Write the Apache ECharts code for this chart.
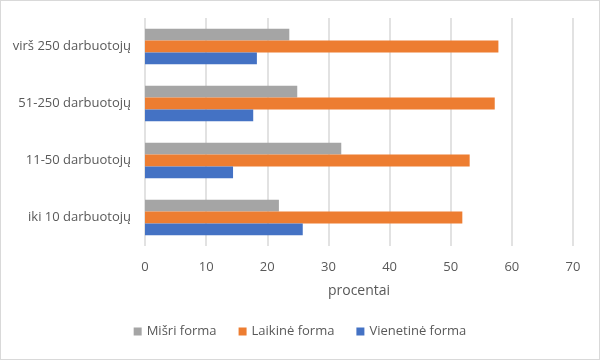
<!DOCTYPE html>
<html>
<head>
<meta charset="utf-8">
<script src="https://cdn.jsdelivr.net/npm/echarts@6/dist/echarts.min.js"></script>
<style>
html,body{margin:0;padding:0;background:#fff;}
#c{width:598px;height:358px;border:1px solid #d9d9d9;}
</style>
</head>
<body>
<div id="c"></div>
<script>
const categories = ['iki 10 darbuotojų', '11-50 darbuotojų', '51-250 darbuotojų', 'virš 250 darbuotojų'];
const misri = [21.9, 32.1, 24.9, 23.6];
const laikine = [51.9, 53.1, 57.2, 57.8];
const vienetine = [25.8, 14.4, 17.7, 18.3];
const xTicks = [0, 10, 20, 30, 40, 50, 60, 70];

const chart = echarts.init(document.getElementById('c'));
const font = '"Open Sans", "Noto Sans", sans-serif';
chart.setOption({
  animation: false,
  textStyle: { fontFamily: font },
  grid: { left: 144, right: 26, top: 17, bottom: 113 },
  legend: {
    data: ['Mišri forma', 'Laikinė forma', 'Vienetinė forma'],
    bottom: 16,
    left: 'center',
    itemWidth: 8,
    itemHeight: 8,
    itemGap: 22,
    icon: 'rect',
    textStyle: { color: '#595959', fontSize: 13, fontFamily: font }
  },
  xAxis: {
    type: 'value',
    min: xTicks[0],
    max: xTicks[xTicks.length - 1],
    interval: 10,
    name: 'procentai',
    nameLocation: 'middle',
    nameGap: 38,
    nameTextStyle: { color: '#595959', fontSize: 14, fontFamily: font },
    axisLine: { show: false },
    axisTick: { show: false },
    axisLabel: { color: '#595959', fontSize: 13, margin: 15, fontFamily: font },
    splitLine: { show: true, lineStyle: { color: '#d9d9d9', width: 1.5 } }
  },
  yAxis: {
    type: 'category',
    data: categories,
    axisLine: { show: false },
    axisTick: { show: false },
    axisLabel: { color: '#595959', fontSize: 13, margin: 14, fontFamily: font }
  },
  series: [
    { name: 'Mišri forma', type: 'bar', data: misri, itemStyle: { color: '#a5a5a5' }, barGap: '0%', barCategoryGap: '38%' },
    { name: 'Laikinė forma', type: 'bar', data: laikine, itemStyle: { color: '#ed7d31' }, barGap: '0%', barCategoryGap: '38%' },
    { name: 'Vienetinė forma', type: 'bar', data: vienetine, itemStyle: { color: '#4472c4' }, barGap: '0%', barCategoryGap: '38%' }
  ]
});
</script>
</body>
</html>
